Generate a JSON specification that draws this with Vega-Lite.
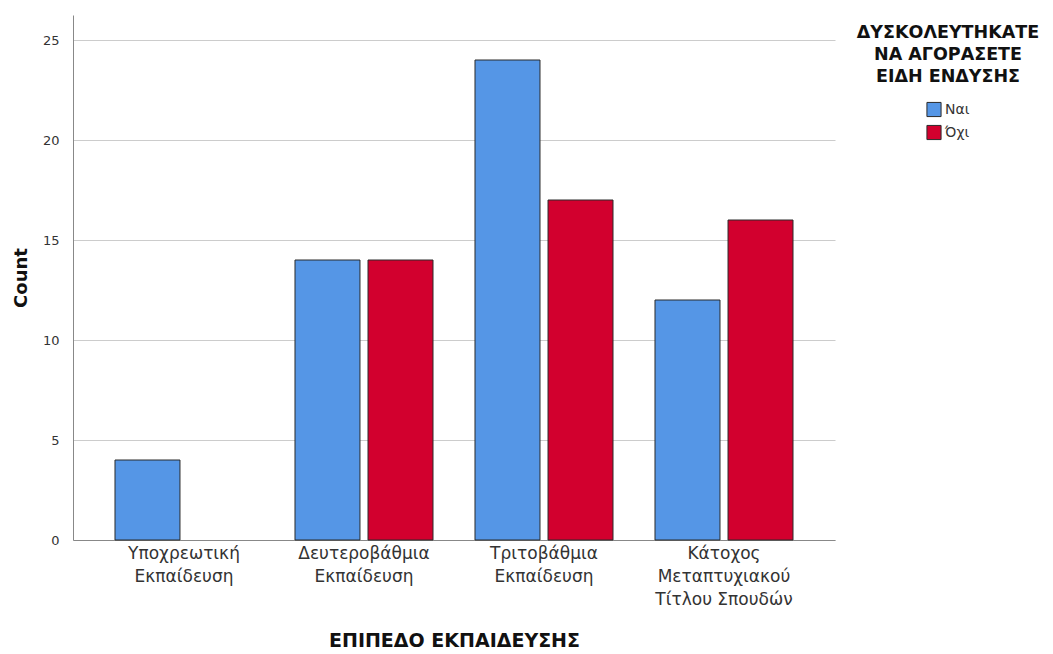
{
  "$schema": "https://vega.github.io/schema/vega-lite/v6.json",
  "width": 762,
  "height": 525,
  "autosize": {"type": "none"},
  "padding": {"left": 73, "top": 15, "right": 218, "bottom": 114},
  "background": "white",
  "config": {
    "font": "DejaVu Sans",
    "view": {"stroke": null}
  },
  "data": {
    "values": [
      {"level": "Υποχρεωτική|Εκπαίδευση", "answer": "Ναι", "count": 4},
      {"level": "Δευτεροβάθμια|Εκπαίδευση", "answer": "Ναι", "count": 14},
      {"level": "Δευτεροβάθμια|Εκπαίδευση", "answer": "Όχι", "count": 14},
      {"level": "Τριτοβάθμια|Εκπαίδευση", "answer": "Ναι", "count": 24},
      {"level": "Τριτοβάθμια|Εκπαίδευση", "answer": "Όχι", "count": 17},
      {"level": "Κάτοχος|Μεταπτυχιακού|Τίτλου Σπουδών", "answer": "Ναι", "count": 12},
      {"level": "Κάτοχος|Μεταπτυχιακού|Τίτλου Σπουδών", "answer": "Όχι", "count": 16}
    ]
  },
  "mark": {"type": "bar", "stroke": "#2b2b2b", "strokeWidth": 1},
  "encoding": {
    "x": {
      "field": "level",
      "type": "nominal",
      "sort": null,
      "scale": {"paddingInner": 0.2333, "paddingOuter": 0.2333},
      "axis": {
        "title": "ΕΠΙΠΕΔΟ ΕΚΠΑΙΔΕΥΣΗΣ",
        "titleFontSize": 19,
        "titleFontWeight": "bold",
        "titleColor": "#111111",
        "titlePadding": 24,
        "labelExpr": "split(datum.value, '|')",
        "labelAngle": 0,
        "labelFontSize": 17,
        "labelColor": "#333333",
        "labelLineHeight": 23,
        "labelPadding": 5,
        "ticks": false,
        "domainColor": "#888888",
        "grid": false
      }
    },
    "xOffset": {
      "field": "answer",
      "type": "nominal",
      "scale": {"domain": ["Ναι", "Όχι"], "paddingInner": 0.11, "paddingOuter": 0}
    },
    "y": {
      "field": "count",
      "type": "quantitative",
      "scale": {"domain": [0, 26.25], "nice": false},
      "axis": {
        "title": "Count",
        "titleFontSize": 18,
        "titleFontWeight": "bold",
        "titleColor": "#111111",
        "titlePadding": 12,
        "values": [0, 5, 10, 15, 20, 25],
        "labelFontSize": 13,
        "labelColor": "#333333",
        "labelPadding": 14,
        "ticks": false,
        "domainColor": "#888888",
        "gridColor": "#cccccc",
        "gridWidth": 1.2
      }
    },
    "color": {
      "field": "answer",
      "type": "nominal",
      "scale": {"domain": ["Ναι", "Όχι"], "range": ["#5596E6", "#D2002E"]},
      "legend": {
        "title": ["ΔΥΣΚΟΛΕΥΤΗΚΑΤΕ", "ΝΑ ΑΓΟΡΑΣΕΤΕ", "ΕΙΔΗ ΕΝΔΥΣΗΣ"],
        "orient": "none",
        "legendX": 784,
        "legendY": 9,
        "titleFontSize": 17.5,
        "titleFontWeight": "bold",
        "titleColor": "#111111",
        "titleAlign": "center",
        "titleAnchor": "middle",
        "titleLineHeight": 22,
        "titlePadding": 16,
        "titleLimit": 400,
        "labelFontSize": 14,
        "labelColor": "#333333",
        "symbolType": "square",
        "symbolSize": 200,
        "symbolStrokeColor": "#2b2b2b",
        "symbolStrokeWidth": 1,
        "rowPadding": 3,
        "labelOffset": 3
      }
    }
  }
}
